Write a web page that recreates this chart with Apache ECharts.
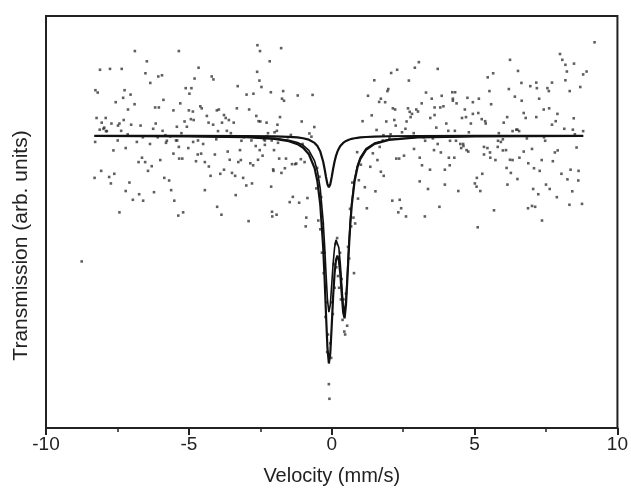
<!DOCTYPE html>
<html>
<head>
<meta charset="utf-8">
<script src="https://cdn.jsdelivr.net/npm/echarts@6/dist/echarts.min.js"></script>
<style>
  html, body { margin: 0; padding: 0; background: #fff; }
  #chart { width: 631px; height: 491px; }
</style>
</head>
<body>
<div id="chart"></div>
<script>
// velocity (mm/s), transmission (arb. units)
var wingLeft = [
  [-8.30,98.56],[-8.27,101.56],[-8.23,100.61],[-8.19,101.48],[-8.11,102.26],[-8.07,98.80],[-7.99,100.24],[-7.96,100.28],
  [-7.91,100.61],[-7.87,100.16],[-7.79,98.59],[-7.76,102.29],[-7.71,100.42],[-7.64,99.50],[-7.56,101.15],[-7.48,100.35],
  [-7.43,97.38],[-7.37,100.17],[-7.35,102.29],[-7.30,101.30],[-7.25,101.56],[-7.21,98.11],[-7.14,100.05],[-7.08,98.40],
  [-7.02,100.38],[-6.96,97.81],[-6.89,102.90],[-6.82,99.79],[-6.74,98.00],[-6.69,100.35],[-6.64,99.25],[-6.60,97.78],
  [-6.53,99.10],[-6.47,102.55],[-6.43,98.80],[-6.36,99.72],[-6.30,98.96],[-6.25,100.24],[-6.22,98.07],[-6.16,100.42],
  [-6.09,99.95],[-6.05,100.97],[-6.00,99.17],[-5.92,100.17],[-5.89,101.23],[-5.86,98.56],[-5.82,100.02],[-5.77,99.83],
  [-5.69,98.47],[-5.62,98.14],[-5.54,100.87],[-5.51,97.78],[-5.45,99.84],[-5.42,100.31],[-5.37,97.27],[-5.34,99.22],
  [-5.30,101.11],[-5.23,99.22],[-5.20,97.38],[-5.15,100.49],[-5.07,100.31],[-5.02,99.58],[-4.98,101.44],[-4.91,101.63],
  [-4.86,100.83],[-4.83,100.54],[-4.80,101.96],[-4.75,99.13],[-4.68,99.84],[-4.66,102.33],[-4.60,101.01],[-4.55,100.94],
  [-4.50,99.72],[-4.44,98.14],[-4.37,100.68],[-4.31,100.45],[-4.24,98.63],[-4.20,102.03],[-4.14,101.93],[-4.09,99.36],
  [-4.04,99.88],[-4.01,97.57],[-3.98,100.16],[-3.90,98.70],[-3.84,100.45],[-3.77,100.71],[-3.71,100.61],[-3.67,100.17],
  [-3.64,99.46],[-3.57,99.18],[-3.54,99.98],[-3.49,98.73],[-3.43,100.45],[-3.36,97.97],[-3.32,100.94],[-3.27,99.10],
  [-3.21,99.51],[-3.18,99.17],[-3.10,98.56],[-3.07,99.95],[-3.03,99.98],[-2.98,101.41],[-2.91,97.08],[-2.85,99.06],
  [-2.79,98.37],[-2.74,101.44],[-2.66,99.65],[-2.61,102.19],[-2.58,99.18],[-2.56,100.50],[-2.53,101.89],[-2.50,100.49],
  [-2.42,99.32],[-2.37,99.88],[-2.34,99.69],[-2.28,99.98],[-2.23,100.09],[-2.17,102.55],[-2.13,101.49],[-2.10,99.84],
  [-2.08,97.24],[-2.05,98.85],[-2.02,99.51],[-2.00,100.12],[-1.92,100.17],[-1.90,100.38],[-1.84,99.22],[-1.81,100.64],
  [-1.76,98.73],[-1.70,101.53],[-1.67,101.20],[-1.64,98.89],
  [-2.60,103.10],[-2.51,102.90],[-1.77,103.00],[-5.35,102.90],[-8.75,95.70],[-2.09,97.40],[-1.93,97.30]
];
var wingLeft2 = [
  [-8.28,99.79],[-8.12,100.21],[-8.05,100.45],[-7.90,100.16],[-7.73,98.37],[-7.61,98.70],[-7.49,99.84],[-7.43,100.42],
  [-7.28,100.54],[-7.21,99.58],[-7.13,100.90],[-7.04,101.41],[-6.90,101.08],[-6.76,99.10],[-6.61,99.95],[-6.52,102.14],
  [-6.35,101.81],[-6.18,100.97],[-6.07,102.03],[-5.94,102.07],[-5.80,99.76],[-5.65,99.98],[-5.54,99.39],[-5.41,99.84],
  [-5.35,99.62],[-5.26,100.09],[-5.11,101.63],[-5.00,100.87],[-4.93,100.57],[-4.85,99.79],[-4.69,99.36],[-4.57,99.39],
  [-4.44,99.10],[-4.30,98.95],[-4.15,100.38],[-4.02,100.87],[-3.95,100.90],[-3.86,97.30],[-3.77,98.84],[-3.60,100.54],
  [-3.53,100.09],[-3.38,98.63],[-3.29,101.70],[-3.16,99.83],[-2.99,98.30],[-2.89,100.90],[-2.81,99.84],[-2.75,98.99],
  [-2.64,100.68],[-2.52,99.51],[-2.46,101.67],[-2.34,99.84],[-2.28,100.45],[-2.12,98.26],[-2.04,98.80],[-1.88,99.76],
  [-1.74,101.27]
];
var dipPoints = [
  [-1.60,99.22],[-1.54,99.95],[-1.47,97.73],[-1.43,100.03],[-1.39,99.03],[-1.36,97.91],[-1.28,99.03],[-1.24,99.05],
  [-1.19,101.38],[-1.14,97.71],[-1.08,99.20],[-1.05,100.49],[-1.02,99.72],[-0.95,99.10],[-0.91,96.90],[-0.89,97.20],
  [-0.85,97.87],[-0.78,100.08],[-0.71,99.97],[-0.67,101.40],[-0.61,100.30],[-0.54,98.20],
  [-0.51,98.9],[-0.47,97.1],[-0.43,98.6],[-0.40,96.8],[-0.37,97.9],[-0.34,96.0],[-0.31,97.0],
  [-0.28,95.3],[-0.25,96.0],[-0.22,93.8],[-0.19,94.3],[-0.16,92.6],[-0.13,93.2],[-0.10,91.5],[-0.08,91.0],
  [-0.05,92.9],[-0.02,92.4],[0.01,94.3],[0.04,93.9],[0.07,95.6],[0.10,94.8],[0.13,96.3],[0.16,95.5],
  [0.19,96.5],[0.22,95.2],[0.26,94.8],[0.29,96.0],[0.32,94.4],[0.35,95.1],[0.38,93.7],[0.41,94.4],
  [0.44,93.3],[0.47,93.2],[0.50,94.6],[0.54,93.5],[0.57,96.2],[0.61,95.8],[0.64,97.5],[0.68,96.9],
  [0.72,98.4],[0.76,97.2],[0.78,95.3],
  [0.82,97.00],[0.89,99.44],[0.92,97.85],[0.95,98.48],[1.02,99.01],[1.08,100.50],[1.16,98.24],[1.23,97.52],
  [1.27,101.37],[1.35,98.94],[1.40,100.70],[1.44,99.40],[1.49,101.90],[1.53,98.10],[1.57,100.20]
];
var wingRight = [
  [1.60,99.17],[1.68,99.62],[1.72,98.77],[1.79,99.84],[1.81,100.02],[1.87,101.15],[1.95,101.53],[1.98,101.60],
  [2.02,99.91],[2.06,100.05],[2.12,97.78],[2.19,100.54],[2.22,100.90],[2.26,99.22],[2.29,102.26],[2.33,97.38],
  [2.38,97.81],[2.46,100.12],[2.53,99.32],[2.58,100.24],[2.62,100.49],[2.70,101.89],[2.73,100.82],[2.81,100.75],
  [2.88,99.55],[2.91,102.33],[2.96,100.90],[3.00,99.98],[3.05,102.52],[3.08,98.44],[3.15,101.11],[3.22,99.95],
  [3.26,97.24],[3.30,101.48],[3.37,98.18],[3.45,100.61],[3.50,101.27],[3.54,99.91],[3.58,99.51],[3.60,100.71],
  [3.66,100.28],[3.71,99.72],[3.77,97.57],[3.80,100.97],[3.85,101.37],[3.91,101.01],[3.96,98.33],[4.01,100.42],
  [4.08,100.17],[4.10,99.25],[4.14,99.83],[4.22,101.49],[4.24,101.27],[4.29,99.25],[4.32,101.49],[4.35,99.83],
  [4.43,98.11],[4.50,99.72],[4.56,100.61],[4.60,99.72],[4.66,100.90],[4.70,100.64],[4.75,101.30],[4.80,100.12],
  [4.87,100.42],[4.94,101.15],[5.01,98.37],[5.07,98.26],[5.11,96.87],[5.13,100.78],[5.20,98.11],[5.27,98.70],
  [5.33,99.62],[5.37,100.50],[5.39,100.42],[5.46,102.00],[5.52,101.53],[5.55,99.25],[5.58,101.08],[5.65,102.14],
  [5.73,99.17],[5.81,99.62],[5.85,100.09],[5.92,99.79],[5.99,99.88],[6.02,100.45],[6.10,99.51],[6.12,98.90],
  [6.15,98.33],[6.20,101.60],[6.24,99.18],[6.27,98.73],[6.33,100.16],[6.41,101.34],[6.46,100.21],[6.50,98.52],
  [6.52,102.22],[6.56,100.16],[6.64,101.81],[6.72,99.46],[6.79,100.61],[6.83,99.91],[6.87,97.52],[6.95,101.70],
  [7.01,97.60],[7.05,98.18],[7.12,97.57],[7.16,101.82],[7.18,101.63],[7.23,98.00],[7.28,98.80],[7.35,99.17],
  [7.43,99.95],[7.47,99.83],[7.55,101.63],[7.60,101.53],[7.63,98.18],[7.71,101.82],[7.74,99.13],[7.81,99.43],
  [7.88,97.90],[7.91,99.50],[7.99,102.80],[8.07,102.60],[8.14,100.24],[8.18,102.43],[8.25,98.51],[8.33,101.53],
  [8.36,98.84],[8.44,100.21],[8.47,100.60],[8.51,100.05],[8.57,99.60],[8.63,98.47],[8.70,101.67],[8.76,97.67],
  [8.80,100.16],[8.92,102.20],[8.23,102.20],[9.20,103.20]
];
var wingRight2 = [
  [1.66,101.16],[1.72,101.27],[1.82,98.63],[1.91,100.49],[2.08,102.15],[2.14,100.94],[2.24,100.35],[2.36,99.22],
  [2.43,97.52],[2.60,97.24],[2.67,100.94],[2.76,100.64],[2.87,100.09],[3.02,100.83],[3.08,99.25],[3.16,98.99],
  [3.27,99.83],[3.44,98.84],[3.60,100.97],[3.71,102.29],[3.82,99.43],[3.96,98.84],[4.13,98.99],[4.24,101.20],
  [4.31,100.17],[4.37,101.11],[4.53,99.58],[4.61,99.65],[4.72,99.51],[4.78,99.46],[4.94,100.75],[5.08,98.56],
  [5.15,101.27],[5.25,100.57],[5.33,99.36],[5.45,99.58],[5.54,99.43],[5.68,97.45],[5.82,99.83],[5.99,99.50],
  [6.14,100.64],[6.24,102.60],[6.33,99.17],[6.50,100.21],[6.57,99.25],[6.65,101.20],[6.72,100.78],[6.88,99.06],
  [7.01,99.55],[7.08,98.89],[7.16,100.64],[7.26,101.27],[7.36,97.10],[7.42,100.90],[7.50,98.33],[7.61,100.94],
  [7.71,100.38],[7.84,100.50],[7.90,100.75],[8.04,98.70],[8.18,101.90],[8.32,97.64],[8.42,98.10],[8.48,102.47],
  [8.64,98.80],[8.80,102.10]
];

// fitted curves, sampled off the figure
var fitVel = [-8.3,-5,-3,-2,-1.5,-1.2,-1.0,-0.8,-0.6,-0.5,-0.4,-0.3,-0.25,-0.2,-0.15,-0.1,-0.05,0,0.05,0.1,
  0.15,0.2,0.25,0.3,0.35,0.4,0.45,0.5,0.55,0.6,0.65,0.7,0.8,0.9,1.0,1.2,1.5,2,3,5,8.8];
var fitSinglet = [99.999,99.997,99.992,99.981,99.965,99.944,99.917,99.867,99.757,99.648,99.459,99.12,98.874,
  98.592,98.344,98.24,98.344,98.592,98.874,99.12,99.313,99.459,99.567,99.648,99.71,99.757,99.795,99.824,
  99.848,99.867,99.883,99.897,99.917,99.932,99.944,99.959,99.973,99.984,99.993,99.997,99.999];
var fitDoublet = [99.995,99.985,99.96,99.913,99.85,99.77,99.675,99.503,99.139,98.787,98.18,97.086,96.268,
  95.302,94.405,93.968,94.214,94.906,95.638,96.172,96.441,96.441,96.169,95.633,94.9,94.206,93.959,94.397,
  95.295,96.262,97.081,97.71,98.525,98.984,99.26,99.557,99.751,99.875,99.95,99.983,99.995];
var fitTotal = [99.994,99.982,99.952,99.894,99.815,99.714,99.59,99.37,98.896,98.435,97.638,96.206,95.142,
  93.894,92.749,92.208,92.558,93.498,94.512,95.292,95.754,95.9,95.736,95.281,94.61,93.963,93.754,94.221,
  95.143,96.13,96.964,97.607,98.442,98.916,99.204,99.516,99.724,99.859,99.942,99.98,99.994];

function pairs(ys) {
  var out = [];
  for (var i = 0; i < fitVel.length; i++) out.push([fitVel[i], ys[i]]);
  return out;
}

var chart = echarts.init(document.getElementById('chart'), null, {renderer: 'canvas'});
var font = 'Liberation Sans, Arial, sans-serif';
var dotStyle = {color: '#2a2a2a', opacity: 0.75};
var lineStyle = {color: '#111', width: 2.2};

chart.setOption({
  animation: false,
  backgroundColor: '#fff',
  grid: {left: 46, right: 6, top: 16, bottom: 59, show: true, borderColor: '#222', borderWidth: 2},
  graphic: [{
    type: 'text', left: 11, top: 'middle', rotation: Math.PI / 2,
    style: {text: 'Transmission (arb. units)', fontFamily: font, fontSize: 21, fill: '#222'},
    y: 248
  }],
  xAxis: {
    type: 'value', min: -10, max: 10, interval: 5,
    name: 'Velocity (mm/s)', nameLocation: 'middle', nameGap: 38,
    nameTextStyle: {fontFamily: font, fontSize: 20, color: '#222'},
    axisLine: {onZero: false, lineStyle: {color: '#222', width: 2}},
    axisTick: {show: true, inside: false, length: 7, lineStyle: {color: '#222', width: 2}},
    minorTick: {show: true, splitNumber: 2, length: 4, lineStyle: {color: '#222', width: 1.5}},
    axisLabel: {fontFamily: font, fontSize: 19, color: '#222', margin: 7},
    splitLine: {show: false}
  },
  yAxis: {
    type: 'value', min: 90, max: 104.1,
    axisLine: {show: true, onZero: false, lineStyle: {color: '#222', width: 2}},
    axisTick: {show: false}, axisLabel: {show: false}, splitLine: {show: false}
  },
  series: [
    {type: 'scatter', data: wingLeft.concat(wingLeft2), symbol: 'rect', symbolSize: 2.6, itemStyle: dotStyle},
    {type: 'scatter', data: dipPoints, symbol: 'rect', symbolSize: 2.6, itemStyle: dotStyle},
    {type: 'scatter', data: wingRight.concat(wingRight2), symbol: 'rect', symbolSize: 2.6, itemStyle: dotStyle},
    {type: 'line', data: pairs(fitSinglet), showSymbol: false, lineStyle: lineStyle},
    {type: 'line', data: pairs(fitDoublet), showSymbol: false, lineStyle: {color: '#111', width: 1.6}},
    {type: 'line', data: pairs(fitTotal), showSymbol: false, lineStyle: lineStyle}
  ]
});
</script>
</body>
</html>
